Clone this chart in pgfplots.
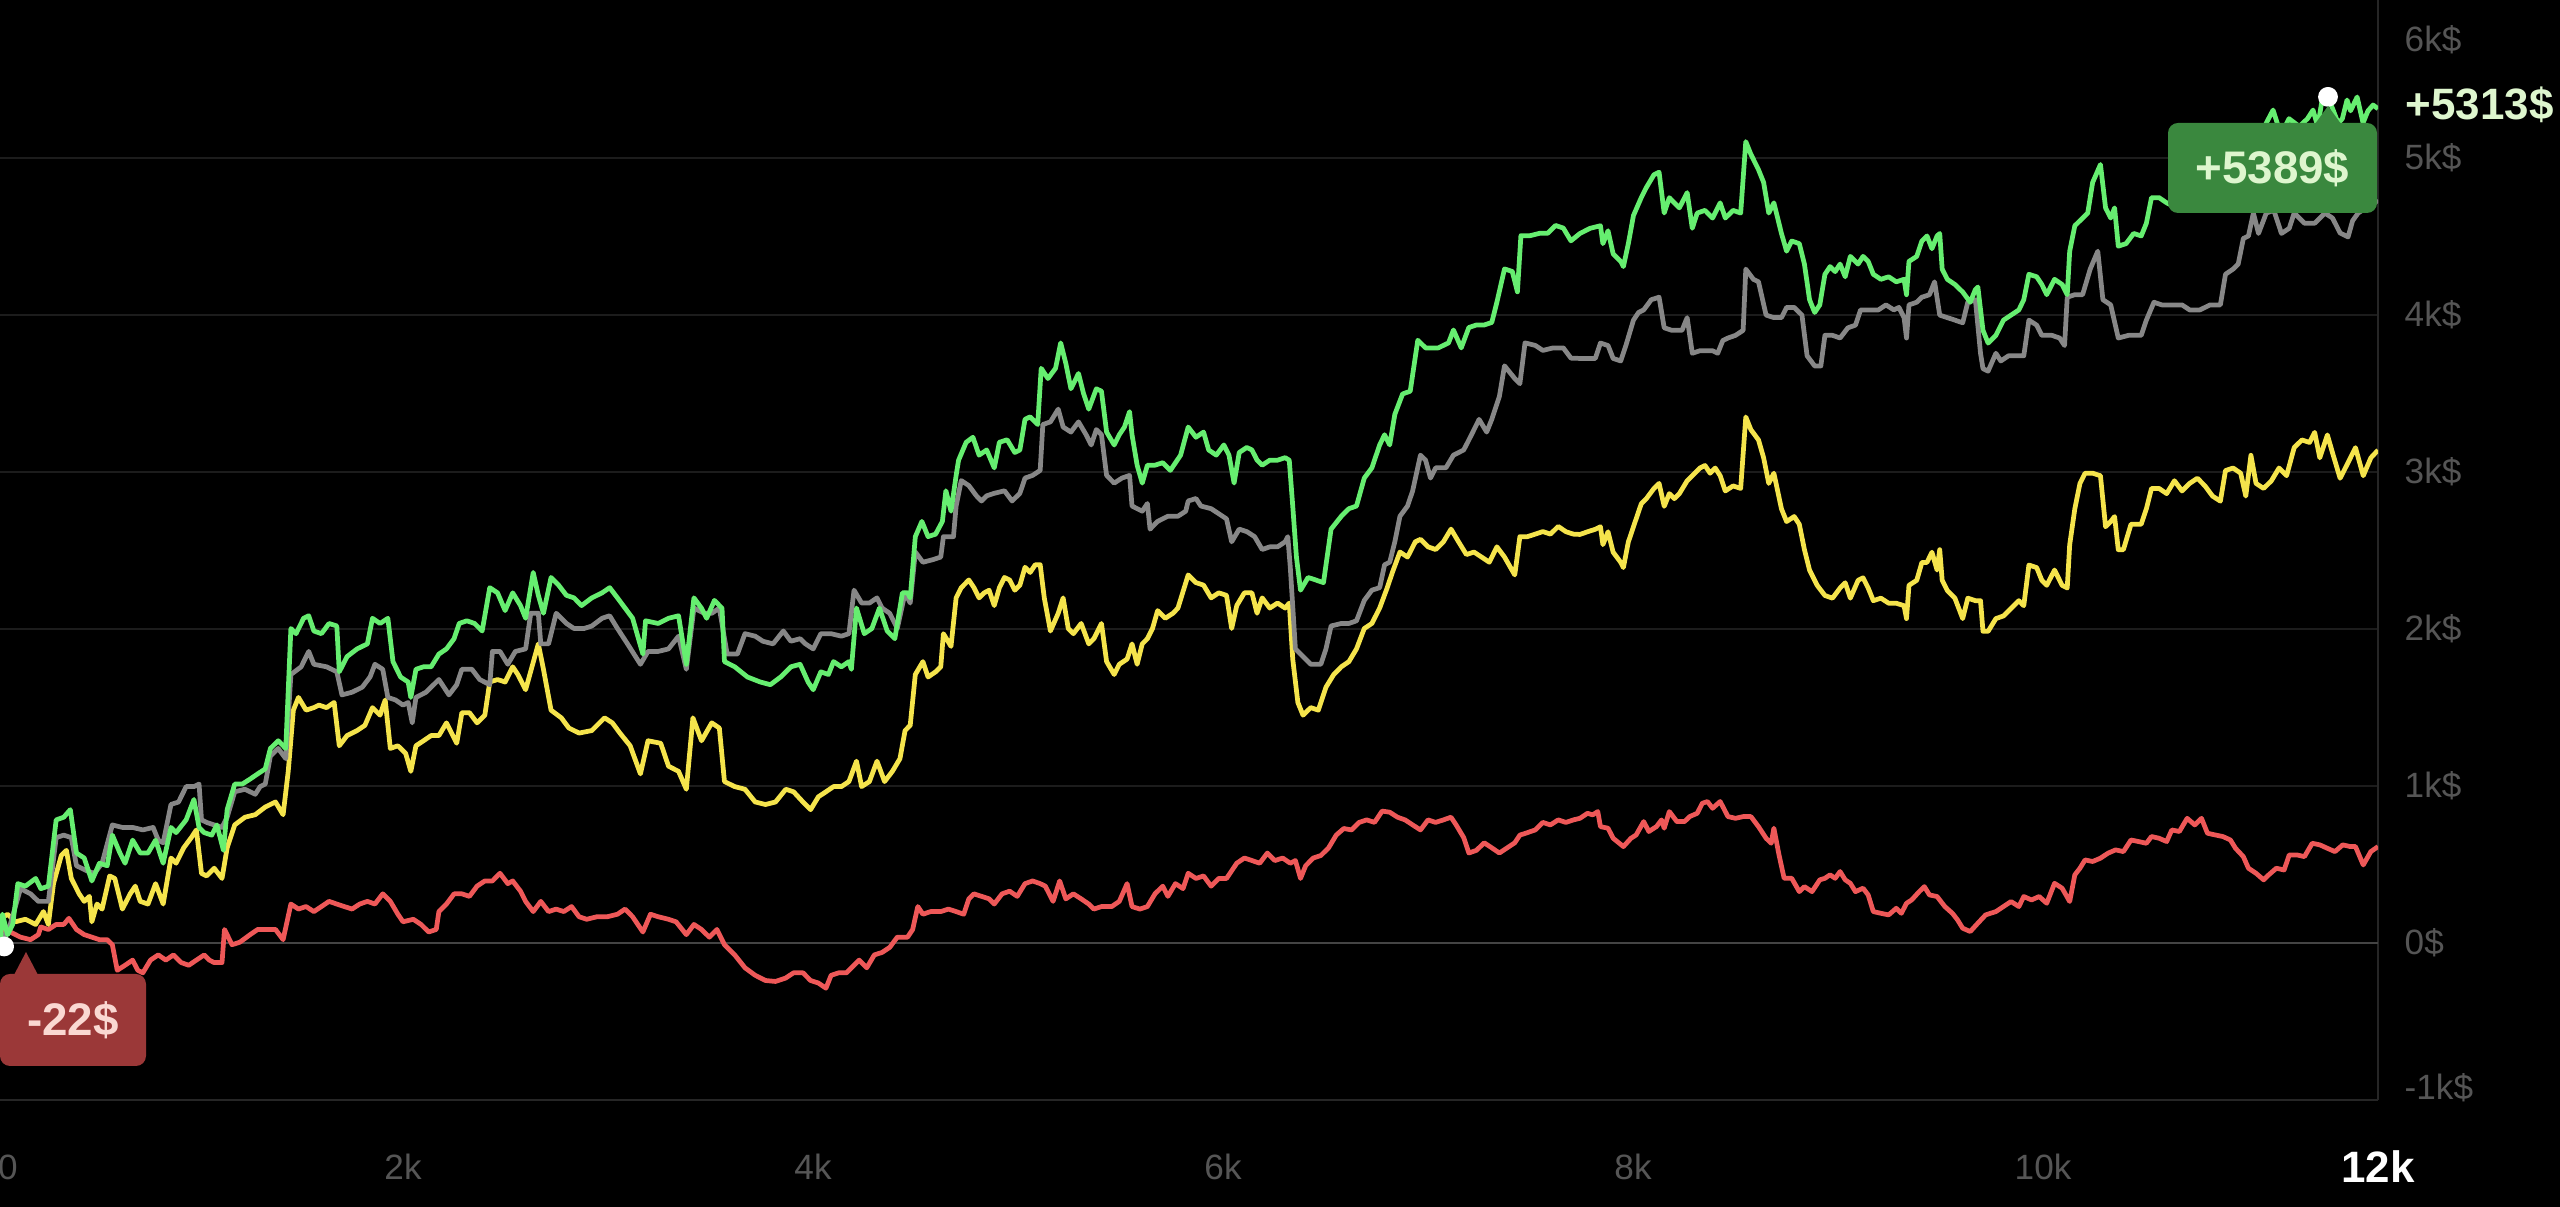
\documentclass[border=0pt]{standalone}
\usepackage{fontspec}
\setmainfont{Liberation Sans}
\usepackage{pgfplots}
\pgfplotsset{compat=1.18}

\definecolor{gline}{RGB}{102,238,112}
\definecolor{grayl}{RGB}{135,135,135}
\definecolor{yline}{RGB}{245,228,76}
\definecolor{rline}{RGB}{238,88,88}
\definecolor{gridcol}{RGB}{28,28,28}
\definecolor{zerocol}{RGB}{68,68,68}
\definecolor{bordercol}{RGB}{38,38,38}
\definecolor{labelcol}{RGB}{85,85,85}
\definecolor{gbox}{RGB}{58,136,62}
\definecolor{gtext}{RGB}{222,246,206}
\definecolor{rbox}{RGB}{155,56,56}
\definecolor{rtext}{RGB}{250,216,210}

\begin{document}
\begin{tikzpicture}
\fill[black] (0,0) rectangle (256mm,120.7mm);
\begin{axis}[
  at={(0mm,10.7mm)}, anchor=south west,
  scale only axis, width=237.8mm, height=110mm,
  xmin=34, xmax=11634, ymin=-1000, ymax=6006,
  axis x line*=bottom, axis y line*=right,
  axis line style={draw=bordercol, line width=0.6pt},
  xtick={73,2000,4000,6000,8000,10000,11634},
  xticklabels={0,2k,4k,6k,8k,10k,{\color{white}\fontsize{12.5}{14}\selectfont\bfseries 12k}},
  ytick={0,1000,2000,3000,4000,5000},
  yticklabels={0\$,1k\$,2k\$,3k\$,4k\$,5k\$},
  extra y ticks={-923,5751},
  extra y tick labels={-1k\$,6k\$},
  extra y tick style={grid=none},
  ymajorgrids, major grid style={draw=gridcol, line width=0.55pt},
  major tick length=0pt, tick style={draw=none},
  ticklabel style={font=\fontsize{10}{12}\selectfont, text=labelcol},
  xticklabel style={anchor=center, inner sep=0pt, yshift=-6.7mm},
  yticklabel style={anchor=west, inner sep=0pt, xshift=2.6mm},
  every axis plot/.append style={line width=1.35pt, line join=round},
]
\draw[zerocol, line width=0.75pt] (axis cs:34,0) -- (axis cs:11634,0);

% red
\addplot[rline] coordinates {
(34,86) (84,70) (134,37) (183,21) (221,53) (233,102) (270,86) (308,118) (345,118) (370,157) (407,86) (445,53) (482,37) (519,21) (557,21) (582,-11) (606,-174) (644,-142) (681,-109) (706,-174) (731,-190) (768,-109) (806,-76) (843,-109) (880,-76) (918,-125) (955,-142) (992,-109) (1030,-76) (1055,-109) (1079,-125) (1117,-125) (1129,86) (1166,-11) (1204,5) (1254,53) (1291,86) (1328,86) (1378,86) (1415,21) (1453,248) (1490,216) (1527,232) (1565,200) (1602,232) (1639,265) (1677,248) (1714,232) (1751,216) (1789,248) (1826,265) (1863,248) (1901,313) (1938,265) (1975,183) (2000,135) (2050,151) (2088,118) (2125,70) (2162,86) (2175,200) (2212,248) (2249,313) (2287,313) (2324,297) (2361,362) (2399,395) (2436,395) (2473,444) (2511,378) (2535,395) (2573,330) (2598,265) (2635,200) (2672,265) (2710,200) (2747,216) (2784,200) (2822,232) (2859,167) (2896,151) (2946,167) (2996,167) (3046,183) (3083,216) (3120,167) (3170,70) (3207,183) (3245,167) (3295,151) (3332,135) (3382,53) (3419,118) (3456,86) (3494,37) (3531,86) (3568,-11) (3618,-76) (3668,-158) (3718,-206) (3768,-239) (3817,-245) (3867,-223) (3905,-190)
(3951,-190) (3988,-239) (4026,-255) (4063,-288) (4088,-206) (4125,-190) (4163,-190) (4200,-142) (4225,-109) (4262,-158) (4299,-76) (4337,-60) (4374,-28) (4411,37) (4461,37) (4486,86) (4511,232) (4536,183) (4573,200) (4623,200) (4660,216) (4698,200) (4735,183) (4760,281) (4785,313) (4822,297) (4859,281) (4884,248) (4922,313) (4959,330) (4996,297) (5034,378) (5071,395) (5108,378) (5133,362) (5171,265) (5203,395) (5233,281) (5270,313) (5308,281) (5345,248) (5370,216) (5407,232) (5457,232) (5494,265) (5532,378) (5556,232) (5594,216) (5631,232) (5668,313) (5706,362) (5731,297) (5768,378) (5805,346) (5830,444) (5868,411) (5905,427) (5942,362) (5979,411) (6017,411) (6067,508) (6104,541) (6141,525) (6179,508) (6216,573) (6253,525) (6291,541) (6328,508) (6353,525) (6378,411) (6403,492) (6440,541) (6477,557) (6515,606) (6552,687) (6589,729) (6627,720) (6664,768) (6701,784) (6739,768) (6776,840) (6813,833) (6851,801) (6888,784) (6925,752) (6963,720) (7000,784) (7037,768) (7075,784) (7112,801) (7137,752) (7174,671) (7199,573) (7236,590) (7274,638) (7311,606) (7348,573) (7386,606) (7423,638) (7448,687) (7485,703) (7523,720) (7560,768) (7597,752) (7635,784) (7672,768) (7709,784)
(7741,794) (7778,826) (7803,816) (7828,837) (7841,741) (7878,731) (7903,667) (7953,614) (7990,667) (8015,688) (8052,773) (8077,710) (8114,741) (8139,784) (8152,731) (8177,837) (8214,773) (8251,773) (8276,805) (8313,826) (8338,890) (8363,901) (8388,858) (8425,901) (8463,805) (8500,794) (8537,805) (8575,805) (8612,741) (8649,667) (8674,635) (8687,731) (8712,561) (8737,412) (8774,412) (8811,327) (8836,359) (8873,327) (8911,402) (8936,412) (8961,434) (8986,412) (9010,455) (9035,402) (9060,380) (9085,327) (9122,349) (9147,306) (9172,200) (9209,189) (9247,179) (9284,221) (9309,189) (9334,253) (9359,274) (9396,327) (9421,359) (9446,306) (9483,296) (9521,232) (9558,189) (9583,147) (9608,94) (9645,73) (9682,126) (9720,179) (9770,200) (9807,232) (9844,264) (9882,232) (9906,296) (9944,274) (9981,296) (10018,253) (10056,380) (10093,349) (10130,264) (10155,434) (10180,476) (10205,529) (10242,519) (10280,540) (10317,572) (10354,593) (10392,582) (10429,656) (10466,646) (10504,635) (10529,678) (10566,667) (10603,646) (10628,720) (10665,710) (10703,794) (10740,752) (10773,794) (10802,699) (10840,688) (10877,678) (10914,656) (10939,603) (10977,550) (11002,476) (11039,444) (11076,402) (11101,434) (11138,476) (11176,465) (11201,561) (11238,561) (11275,550) (11313,635) (11350,625) (11387,603) (11424,582) (11462,625) (11499,614) (11524,614) (11562,497) (11599,582) (11634,614)
};

% yellow
\addplot[yline] coordinates {
(34,151) (71,183) (109,135) (158,151) (208,118) (246,200) (270,118) (295,378) (333,557) (358,590) (382,411) (420,313) (445,265) (470,297) (482,135) (507,248) (532,216) (569,427) (594,411) (631,216) (669,313) (694,362) (718,265) (756,248) (793,378) (830,248) (868,541) (893,508) (930,606) (967,671) (992,720) (1017,443) (1042,427) (1079,476) (1117,411) (1142,606) (1179,752) (1229,801) (1279,817) (1328,866) (1378,898) (1415,817) (1440,1093) (1465,1483) (1490,1564) (1527,1483) (1565,1499) (1590,1515) (1627,1499) (1664,1532) (1689,1256) (1727,1321) (1776,1353) (1814,1386) (1851,1499) (1888,1451) (1913,1548) (1938,1239) (1975,1256) (2013,1207) (2038,1093) (2063,1256) (2100,1288) (2137,1321) (2175,1321) (2212,1402) (2262,1272) (2287,1467) (2324,1467) (2361,1402) (2399,1451) (2423,1662) (2461,1678) (2498,1662) (2535,1759) (2560,1710) (2598,1613) (2660,1905) (2685,1743) (2722,1483) (2772,1434) (2809,1369) (2859,1337) (2921,1353) (2983,1434) (3021,1402) (3058,1337) (3108,1256) (3158,1077) (3195,1288) (3257,1272) (3295,1126) (3344,1093) (3382,979) (3414,1434) (3456,1288) (3506,1402) (3543,1369) (3568,1028) (3618,996) (3668,979) (3718,898) (3768,882) (3817,898) (3867,979) (3905,963)
(3951,898) (3988,849) (4026,931) (4063,963) (4100,996) (4138,996) (4175,1028) (4212,1158) (4237,996) (4275,1028) (4312,1158) (4349,1028) (4387,1093) (4424,1174) (4449,1353) (4474,1386) (4499,1710) (4536,1792) (4561,1694) (4598,1727) (4623,1759) (4636,1970) (4673,1889) (4698,2198) (4723,2263) (4760,2312) (4785,2263) (4810,2198) (4835,2230) (4859,2247) (4884,2149) (4909,2263) (4934,2328) (4959,2312) (4984,2247) (5009,2279) (5034,2393) (5059,2360) (5084,2409) (5108,2409) (5128,2198) (5158,1987) (5196,2100) (5220,2198) (5245,2003) (5270,1970) (5308,2035) (5345,1905) (5370,1938) (5407,2035) (5432,1792) (5469,1710) (5494,1775) (5532,1808) (5556,1905) (5581,1775) (5606,1905) (5631,1938) (5656,2003) (5681,2117) (5718,2068) (5756,2100) (5780,2133) (5830,2344) (5868,2295) (5905,2279) (5942,2198) (5979,2230) (6017,2214) (6042,2003) (6067,2149) (6104,2230) (6141,2230) (6166,2100) (6191,2198) (6228,2133) (6266,2165) (6303,2133) (6323,2165) (6340,1808) (6365,1532) (6390,1451) (6428,1499) (6465,1483) (6502,1629) (6540,1710) (6577,1759) (6614,1792) (6651,1873) (6689,2003) (6726,2035) (6764,2133) (6801,2263) (6826,2360) (6863,2490) (6900,2458) (6938,2555) (6963,2571) (7000,2523) (7037,2506) (7075,2555) (7112,2636) (7149,2555) (7187,2474) (7224,2490) (7261,2458) (7299,2425) (7336,2523) (7373,2458) (7423,2344) (7448,2588) (7485,2588) (7523,2604) (7560,2620) (7597,2604) (7635,2653) (7672,2620) (7709,2604)
(7741,2602) (7778,2619) (7816,2635) (7841,2651) (7853,2537) (7878,2619) (7903,2489) (7940,2424) (7953,2391) (7977,2554) (8002,2651) (8040,2797) (8065,2830) (8102,2895) (8127,2927) (8152,2781) (8177,2862) (8201,2830) (8226,2862) (8264,2944) (8289,2976) (8326,3025) (8351,3041) (8376,2992) (8401,3025) (8425,2976) (8450,2879) (8488,2911) (8525,2895) (8550,3350) (8575,3269) (8612,3204) (8637,3090) (8662,2927) (8687,2992) (8724,2765) (8749,2684) (8786,2716) (8811,2667) (8836,2505) (8861,2375) (8898,2278) (8936,2213) (8973,2196) (9010,2261) (9035,2294) (9060,2196) (9098,2310) (9122,2326) (9147,2261) (9172,2180) (9209,2196) (9247,2164) (9284,2164) (9322,2148) (9334,2066) (9346,2278) (9384,2310) (9409,2424) (9434,2424) (9458,2489) (9483,2375) (9496,2505) (9508,2310) (9533,2245) (9570,2196) (9608,2066) (9633,2196) (9670,2180) (9695,2180) (9707,1985) (9732,1985) (9770,2066) (9807,2083) (9844,2131) (9882,2180) (9906,2148) (9931,2407) (9969,2391) (9994,2310) (10018,2278) (10056,2375) (10093,2278) (10118,2261) (10130,2537) (10155,2765) (10180,2927) (10205,2992) (10242,2992) (10280,2976) (10305,2651) (10330,2684) (10349,2716) (10367,2505) (10392,2505) (10429,2667) (10479,2667) (10504,2765) (10529,2895) (10566,2895) (10603,2862) (10641,2944) (10678,2879) (10715,2927) (10753,2960) (10790,2911) (10827,2846) (10865,2814) (10890,3009) (10927,3025) (10964,2992) (10989,2846) (11014,3106) (11039,2927) (11076,2895) (11114,2944) (11151,3025) (11188,2976) (11225,3155) (11263,3204) (11300,3188) (11325,3252) (11350,3090) (11387,3236) (11412,3122) (11449,2960) (11487,3057) (11524,3155) (11562,2976) (11599,3090) (11634,3139)
};

% gray
\addplot[grayl] coordinates {
(34,-11) (84,118) (134,346) (183,313) (221,265) (270,265) (308,671) (345,687) (382,671) (407,492) (457,460) (494,443) (532,508) (582,752) (631,736) (681,736) (731,720) (781,736) (806,655) (830,638) (868,882) (905,898) (942,996) (980,996) (1005,1012) (1017,784) (1042,768) (1079,752) (1117,736) (1142,801) (1179,963) (1229,979) (1279,947) (1303,996) (1328,1012) (1353,1191) (1391,1239) (1428,1174) (1453,1710) (1503,1759) (1540,1857) (1565,1775) (1627,1759) (1677,1727) (1702,1580) (1751,1597) (1801,1629) (1839,1694) (1863,1775) (1901,1743) (1926,1564) (1963,1548) (2000,1515) (2025,1532) (2045,1402) (2063,1564) (2112,1597) (2175,1678) (2224,1580) (2262,1645) (2287,1743) (2336,1743) (2374,1678) (2423,1645) (2436,1857) (2473,1857) (2511,1775) (2548,1857) (2598,1873) (2623,2100) (2660,2100) (2672,1905) (2710,1905) (2747,2100) (2797,2035) (2834,2003) (2884,2003) (2921,2019) (2971,2068) (3008,2084) (3046,2003) (3095,1905) (3158,1775) (3195,1857) (3245,1857) (3295,1873) (3344,1954) (3382,1743) (3419,2133) (3469,2100) (3506,2100) (3543,2133) (3581,1840) (3631,1840) (3668,1970) (3718,1954) (3755,1922) (3805,1905) (3855,1987) (3892,1922) (3937,1938)
(3963,1905) (4001,1873) (4038,1970) (4088,1970) (4138,1954) (4175,1970) (4200,2247) (4237,2165) (4275,2165) (4312,2198) (4337,2133) (4374,2100) (4411,2003) (4449,2230) (4474,2165) (4499,2490) (4536,2425) (4586,2442) (4623,2458) (4636,2588) (4685,2588) (4698,2783) (4723,2945) (4760,2913) (4797,2848) (4822,2815) (4847,2848) (4884,2864) (4934,2880) (4971,2815) (5009,2864) (5034,2961) (5071,2978) (5108,3010) (5121,3302) (5158,3319) (5196,3400) (5220,3286) (5258,3254) (5295,3319) (5332,3237) (5357,3172) (5382,3270) (5407,3237) (5432,2978) (5469,2929) (5507,2961) (5544,2978) (5556,2783) (5606,2750) (5631,2799) (5644,2636) (5681,2685) (5731,2718) (5780,2718) (5818,2750) (5830,2815) (5868,2831) (5892,2783) (5942,2766) (5979,2734) (6017,2701) (6042,2555) (6079,2636) (6116,2620) (6154,2588) (6191,2506) (6228,2523) (6266,2523) (6303,2555) (6316,2588) (6328,2393) (6353,1873) (6390,1824) (6428,1775) (6477,1775) (6502,1873) (6527,2019) (6577,2035) (6614,2035) (6651,2052) (6689,2182) (6726,2247) (6764,2263) (6788,2409) (6813,2425) (6838,2555) (6863,2718) (6900,2783) (6925,2880) (6963,3107) (6988,3075) (7012,2961) (7037,3026) (7087,3026) (7124,3107) (7174,3140) (7212,3237) (7249,3335) (7286,3254) (7311,3335) (7348,3481) (7373,3676) (7423,3595) (7448,3562) (7473,3822) (7523,3806) (7560,3774) (7610,3790) (7660,3790) (7697,3725)
(7741,3723) (7816,3723) (7841,3821) (7878,3805) (7903,3723) (7940,3707) (7965,3805) (8002,3967) (8027,4016) (8052,4032) (8089,4097) (8127,4113) (8152,3918) (8189,3902) (8239,3902) (8264,3983) (8289,3756) (8326,3772) (8388,3772) (8413,3756) (8438,3837) (8463,3853) (8500,3870) (8537,3902) (8550,4292) (8587,4227) (8612,4211) (8649,3999) (8687,3983) (8724,3983) (8749,4048) (8786,4048) (8824,3999) (8849,3740) (8886,3675) (8916,3675) (8936,3870) (8973,3870) (9010,3853) (9048,3918) (9085,3935) (9110,4032) (9160,4032) (9197,4032) (9234,4064) (9272,4032) (9297,4048) (9322,3983) (9334,3853) (9346,4064) (9384,4081) (9409,4113) (9446,4129) (9471,4211) (9496,3999) (9533,3983) (9570,3967) (9608,3950) (9633,4081) (9670,4097) (9695,3756) (9707,3658) (9732,3642) (9770,3756) (9794,3707) (9832,3740) (9869,3740) (9906,3740) (9931,3967) (9969,3935) (9994,3870) (10043,3870) (10081,3853) (10105,3805) (10118,4113) (10155,4129) (10193,4129) (10230,4292) (10267,4406) (10292,4097) (10330,4064) (10367,3853) (10417,3870) (10479,3870) (10504,3967) (10541,4081) (10579,4064) (10628,4064) (10678,4064) (10715,4032) (10765,4032) (10815,4064) (10865,4064) (10890,4259) (10927,4292) (10952,4324) (10977,4487) (11002,4503) (11026,4649) (11051,4519) (11089,4649) (11126,4666) (11163,4519) (11201,4552) (11225,4649) (11275,4584) (11325,4584) (11375,4649) (11412,4617) (11449,4522) (11488,4497) (11510,4600) (11537,4649) (11574,4680) (11605,4700) (11634,4732)
};

% green
\addplot[gline] coordinates {
(34,-18) (46,183) (71,53) (96,118) (121,378) (158,362) (208,411) (233,346) (270,362) (308,784) (345,801) (377,849) (407,573) (445,541) (482,395) (519,508) (557,492) (582,687) (619,573) (644,508) (681,655) (718,573) (756,573) (793,655) (830,508) (868,736) (893,703) (942,784) (980,914) (1005,736) (1030,703) (1067,687) (1092,752) (1124,590) (1142,849) (1179,1012) (1216,1012) (1254,1044) (1291,1077) (1328,1109) (1353,1239) (1391,1288) (1428,1239) (1453,2003) (1478,1970) (1515,2068) (1540,2084) (1565,1987) (1602,1970) (1639,2035) (1677,2019) (1689,1727) (1727,1824) (1776,1873) (1826,1905) (1851,2068) (1888,2035) (1926,2068) (1951,1792) (1988,1694) (2025,1662) (2038,1564) (2063,1743) (2100,1759) (2137,1759) (2175,1840) (2212,1873) (2249,1938) (2274,2035) (2311,2052) (2349,2035) (2386,1987) (2423,2263) (2461,2230) (2498,2117) (2535,2230) (2573,2149) (2598,2068) (2635,2360) (2660,2214) (2685,2100) (2722,2328) (2759,2279) (2797,2214) (2834,2198) (2871,2149) (2921,2198) (2971,2230) (3008,2263) (3046,2198) (3120,2068) (3170,1840) (3183,2052) (3245,2035) (3295,2068) (3344,2084) (3382,1775) (3419,2198) (3456,2132) (3481,2068) (3519,2182) (3556,2132) (3568,1792) (3618,1759) (3680,1694) (3743,1662) (3792,1645) (3842,1694) (3892,1759) (3937,1775)
(3976,1662) (4001,1613) (4038,1727) (4075,1710) (4100,1792) (4138,1759) (4175,1792) (4187,1743) (4212,2133) (4250,1970) (4287,2003) (4324,2133) (4362,1987) (4399,1938) (4436,2230) (4461,2230) (4474,2198) (4499,2588) (4531,2685) (4561,2588) (4598,2604) (4631,2685) (4648,2880) (4673,2750) (4698,2978) (4710,3075) (4747,3189) (4780,3221) (4810,3107) (4847,3140) (4884,3026) (4909,3189) (4947,3205) (4984,3124) (5009,3140) (5034,3335) (5059,3351) (5096,3302) (5113,3660) (5146,3595) (5183,3660) (5208,3822) (5233,3692) (5258,3530) (5295,3627) (5320,3497) (5345,3400) (5382,3530) (5407,3514) (5432,3254) (5469,3172) (5494,3237) (5519,3286) (5544,3384) (5556,3237) (5581,3043) (5606,2929) (5631,3043) (5668,3043) (5706,3059) (5743,3010) (5793,3107) (5830,3286) (5868,3221) (5905,3254) (5930,3140) (5967,3107) (6004,3172) (6029,3107) (6054,2929) (6079,3124) (6116,3156) (6141,3140) (6166,3075) (6191,3043) (6228,3075) (6266,3075) (6303,3091) (6323,3075) (6340,2783) (6358,2458) (6378,2247) (6415,2328) (6452,2312) (6490,2295) (6527,2636) (6577,2718) (6614,2766) (6651,2783) (6689,2961) (6726,3026) (6764,3172) (6788,3237) (6813,3172) (6838,3367) (6876,3497) (6913,3514) (6950,3839) (6988,3790) (7012,3790) (7050,3790) (7100,3822) (7124,3904) (7162,3790) (7199,3920) (7236,3936) (7274,3936) (7311,3952) (7336,4082) (7373,4293) (7411,4277) (7436,4147) (7453,4505) (7498,4505) (7548,4521) (7585,4521) (7622,4570) (7660,4553) (7697,4472)
(7741,4519) (7791,4552) (7841,4568) (7853,4454) (7878,4536) (7903,4389) (7940,4341) (7953,4308) (7977,4454) (8002,4633) (8040,4747) (8065,4812) (8102,4893) (8127,4909) (8152,4649) (8177,4747) (8201,4714) (8226,4682) (8264,4779) (8289,4552) (8313,4649) (8351,4666) (8388,4617) (8425,4714) (8450,4617) (8488,4666) (8525,4649) (8550,5104) (8575,5023) (8612,4925) (8637,4844) (8662,4649) (8687,4714) (8724,4519) (8749,4406) (8774,4471) (8811,4454) (8836,4324) (8861,4097) (8886,4016) (8911,4064) (8936,4259) (8961,4308) (8986,4276) (9010,4324) (9035,4243) (9060,4373) (9098,4324) (9122,4373) (9147,4341) (9172,4259) (9209,4227) (9247,4243) (9284,4211) (9322,4227) (9334,4129) (9346,4341) (9384,4373) (9409,4471) (9434,4503) (9458,4422) (9483,4503) (9496,4519) (9508,4292) (9533,4227) (9570,4194) (9608,4146) (9645,4081) (9670,4162) (9682,4178) (9707,3902) (9732,3821) (9770,3870) (9807,3967) (9844,3999) (9882,4032) (9906,4097) (9931,4259) (9969,4243) (9994,4194) (10018,4129) (10056,4227) (10093,4194) (10118,4129) (10130,4406) (10155,4568) (10193,4617) (10218,4649) (10242,4844) (10280,4958) (10305,4682) (10330,4617) (10349,4682) (10367,4438) (10405,4454) (10442,4519) (10479,4503) (10504,4584) (10529,4747) (10566,4747) (10603,4714) (10628,4698)
(10700,4750) (10800,4900) (10900,4950) (11000,5100) (11080,5200) (11122,5305) (11160,5150) (11200,5250) (11250,5200) (11290,5250) (11317,5305) (11340,5200) (11361,5369) (11390,5389) (11415,5305) (11440,5220) (11460,5250) (11483,5369) (11500,5300) (11532,5388) (11561,5223) (11585,5300) (11610,5337) (11634,5313)
};

% crosshair dots
\addplot[only marks, mark=*, mark size=0.75mm, white] coordinates {(54,-22) (11390,5389)};
\end{axis}

% value badges
\fill[gbox, rounded corners=1mm] (216.8mm,99.4mm) rectangle (237.7mm,108.4mm);
\fill[gbox] (231.5mm,108.3mm) -- (232.8mm,110.1mm) -- (234.1mm,108.3mm) -- cycle;
\node[text=gtext, font=\fontsize{13}{15}\selectfont\bfseries] at (227.25mm,103.9mm) {+5389\$};
\fill[rbox, rounded corners=1mm] (0mm,14.1mm) rectangle (14.6mm,23.3mm);
\fill[rbox] (1.4mm,23.2mm) -- (2.6mm,25.5mm) -- (3.8mm,23.2mm) -- cycle;
\node[text=rtext, font=\fontsize{13}{15}\selectfont\bfseries] at (7.3mm,18.7mm) {-22\$};
\node[anchor=west, inner sep=0pt, text=gtext, font=\fontsize{12.5}{15}\selectfont\bfseries] at (240.5mm,110.2mm) {+5313\$};

\pgfresetboundingbox
\useasboundingbox (0,0) rectangle (256mm,120.7mm);
\end{tikzpicture}
\end{document}
